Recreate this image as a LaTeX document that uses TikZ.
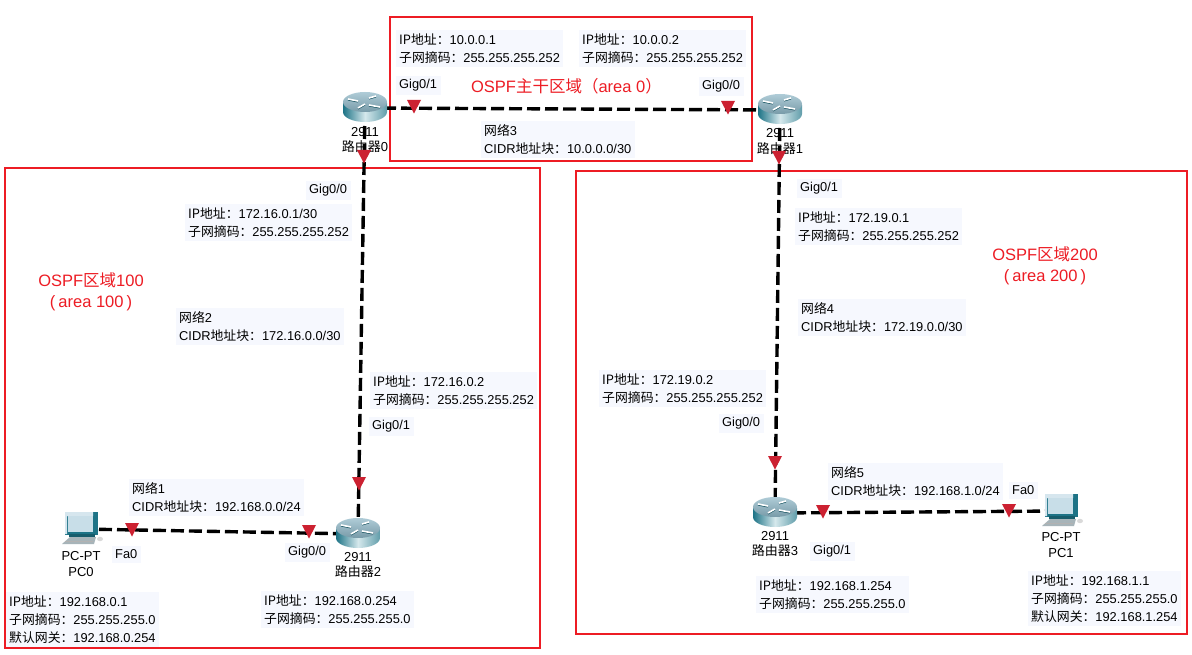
\documentclass[tikz,border=0pt]{standalone}
\usepackage{fontspec}
\setmainfont{Liberation Sans}
\newfontfamily\cjk{Noto Sans CJK SC}
\definecolor{zonered}{HTML}{ED1C24}
\definecolor{markred}{HTML}{CC2131}
\definecolor{lblbg}{HTML}{F6F8FE}
\definecolor{tealdk}{HTML}{1D7386}
\definecolor{teallt}{HTML}{D5E8EC}
\definecolor{topbl}{HTML}{8DB6C6}
\definecolor{screenbl}{HTML}{C8DEE8}
\newcommand{\CJ}[1]{{\cjk #1}}
\newcommand{\IPL}{\CJ{IP地址：}}
\newcommand{\MSK}{\CJ{子网摘码：}}
\newcommand{\GWY}{\CJ{默认网关：}}
\newcommand{\CIDR}{CIDR\CJ{地址块：}}
\newcommand{\NET}{\CJ{网络}}
\newcommand{\marker}[2]{\fill[markred] (#1-7,#2) -- (#1+7,#2) -- (#1,#2+13.5) -- cycle;}
\tikzset{
  zone/.style={draw=zonered,line width=2pt},
  lbl/.style={anchor=west,fill=lblbg,inner sep=3.5pt,align=left,font=\fontsize{12.85}{17.8}\selectfont},
  devlbl/.style={align=center,font=\fontsize{13}{15.5}\selectfont,inner sep=0pt},
  zonelbl/.style={align=center,text=zonered,font=\fontsize{16.5}{21}\selectfont,inner sep=0pt},
  link/.style={line width=3.4pt,dash pattern=on 13pt off 5pt},
  routerpic/.pic={
    \shade[left color=tealdk,right color=tealdk!70!white,middle color=teallt]
      (-22,-5) -- (-22,4) arc[start angle=180,end angle=360,x radius=22,y radius=-10] -- (22,-5) -- cycle;
    \shade[top color=topbl!70!white,bottom color=topbl!85!black] (0,-6) ellipse [x radius=22,y radius=10];
    \draw[tealdk!70!black,line width=1pt] (-17,-8) -- (-7,-6) (4,-9) -- (11,-11) (-7,1) -- (0,-3) (4,-2) -- (15,0);
    \draw[white,line width=1.6pt] (-17,-9) -- (-7,-7) (4,-10) -- (11,-12) (-7,0) -- (0,-4) (4,-3) -- (15,-1);
  },
  pcpic/.pic={
    \fill[tealdk] (-16,-17) -- (17,-17) -- (17,6) -- (-16,6) -- cycle;
    \fill[screenbl!75!white] (-16,-17) -- (12,-17) -- (12,-13) -- (-14,-13) -- (-14,5) -- (-16,5) -- cycle;
    \fill[screenbl] (-13.5,-13) -- (12,-13) -- (12,3) -- (-13.5,3) -- cycle;
    \fill[tealdk!80!black] (-12,5) -- (14,5) -- (14,8) -- (-12,8) -- cycle;
    \fill[gray!45!screenbl] (-19,15) -- (-11,8) -- (15,8) -- (13,15) -- cycle;
    \draw[gray!60,line width=.8pt] (-16,12) -- (12,12);
    \fill[gray!30] (19,10) ellipse [x radius=3,y radius=2.2];
  }
}
\begin{document}
\begin{tikzpicture}[x=1pt,y=-1pt]
\useasboundingbox[fill=white] (0,0) rectangle (1192,655);
\coordinate (r0) at (365,108);
\coordinate (r1) at (780,110);
\coordinate (r2) at (358,534);
\coordinate (r3) at (775,513);
\coordinate (pc0) at (81,529);
\coordinate (pc1) at (1061,511);
% zones
\draw[zone] (390,17) rectangle (752,161);
\draw[zone] (5,168) rectangle (540,648);
\draw[zone] (576,171) rectangle (1187,634);
% labels
\node[lbl] (a1) at (395.5,48.5) {\IPL 10.0.0.1\\\MSK 255.255.255.252};
\node[lbl] (a2) at (578.5,48.5) {\IPL 10.0.0.2\\\MSK 255.255.255.252};
\node[lbl] (a3) at (395.5,85.5) {Gig0/1};
\node[lbl] (a4) at (698.5,86.5) {Gig0/0};
\node[lbl] (a5) at (480.5,139.5) {\NET 3\\\CIDR 10.0.0.0/30};
\node[zonelbl] (z0) at (566.5,86) {OSPF\CJ{主干区域（}area 0\CJ{）}};
\node[lbl] (b1) at (305.5,190.5) {Gig0/0};
\node[lbl] (b2) at (184.5,222.5) {\IPL 172.16.0.1/30\\\MSK 255.255.255.252};
\node[lbl] (b3) at (175.5,326.5) {\NET 2\\\CIDR 172.16.0.0/30};
\node[zonelbl] (z1) at (91,292) {OSPF\CJ{区域}100\\(\kern3pt area 100\kern3pt)};
\node[lbl] (b4) at (369.5,390.5) {\IPL 172.16.0.2\\\MSK 255.255.255.252};
\node[lbl] (b5) at (368.5,426.5) {Gig0/1};
\node[lbl] (b6) at (128.5,497.5) {\NET 1\\\CIDR 192.168.0.0/24};
\node[lbl] (b7) at (111.5,554.5) {Fa0};
\node[lbl] (b8) at (284.5,552.5) {Gig0/0};
\node[lbl] (b9) at (5.5,619.5) {\IPL 192.168.0.1\\\MSK 255.255.255.0\\\GWY 192.168.0.254};
\node[lbl] (b10) at (260.5,609.5) {\IPL 192.168.0.254\\\MSK 255.255.255.0};
\node[lbl] (c1) at (796.5,188.5) {Gig0/1};
\node[lbl] (c2) at (794.5,226.5) {\IPL 172.19.0.1\\\MSK 255.255.255.252};
\node[zonelbl] (z2) at (1045,266) {OSPF\CJ{区域}200\\(\kern3pt area 200\kern3pt)};
\node[lbl] (c3) at (797.5,317.5) {\NET 4\\\CIDR 172.19.0.0/30};
\node[lbl] (c4) at (598.5,388.5) {\IPL 172.19.0.2\\\MSK 255.255.255.252};
\node[lbl] (c5) at (718.5,423.5) {Gig0/0};
\node[lbl] (c6) at (827.5,481.5) {\NET 5\\\CIDR 192.168.1.0/24};
\node[lbl] (c7) at (1008.5,490.5) {Fa0};
\node[lbl] (c8) at (809.5,551.5) {Gig0/1};
\node[lbl] (c9) at (755.5,594.5) {\IPL 192.168.1.254\\\MSK 255.255.255.0};
\node[lbl] (c10) at (1027.5,598.5) {\IPL 192.168.1.1\\\MSK 255.255.255.0\\\GWY 192.168.1.254};
% device captions
\node[devlbl] (d0) at (365,140) {2911\\\CJ{路由器}0};
\node[devlbl] (d1) at (780,141.5) {2911\\\CJ{路由器}1};
\node[devlbl] (d2) at (358,565) {2911\\\CJ{路由器}2};
\node[devlbl] (d3) at (775,544) {2911\\\CJ{路由器}3};
\node[devlbl] (d4) at (81,564) {PC-PT\\PC0};
\node[devlbl] (d5) at (1061,545) {PC-PT\\PC1};
% connectors
\draw[link] (r0) -- (r1);
\draw[link] (r0) -- (r2);
\draw[link] (r1) -- (r3);
\draw[link] (pc0) -- (r2);
\draw[link] (r3) -- (pc1);
% devices
\pic at (r0) {routerpic};
\pic at (r1) {routerpic};
\pic at (r2) {routerpic};
\pic at (r3) {routerpic};
\pic at (pc0) {pcpic};
\pic at (pc1) {pcpic};
% port markers
\marker{414}{100}
\marker{728}{101}
\marker{364}{150}
\marker{779}{151}
\marker{359}{477}
\marker{775}{456}
\marker{132}{523}
\marker{309}{525}
\marker{823}{505}
\marker{1009}{504}
\end{tikzpicture}
\end{document}
